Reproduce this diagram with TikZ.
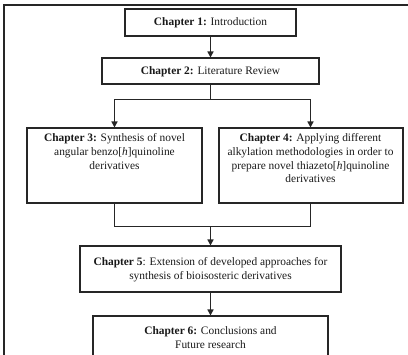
\documentclass[tikz,border=0pt]{standalone}
\usepackage{fontspec}
\setmainfont{Liberation Serif}
\usetikzlibrary{arrows.meta,positioning,calc}
\definecolor{BoxLine}{RGB}{38,38,38}
\tikzset{
  chapbox/.style={
    rectangle, draw=BoxLine, line width=2pt,
    align=center, text=black!90,
    font=\fontsize{11.4}{13.8}\selectfont,
    inner sep=3pt
  },
  tallbox/.style={chapbox, inner xsep=0pt, inner ysep=5pt},
  flow/.style={-{Triangle[length=6pt,width=6pt]},
               line width=1.6pt, color=BoxLine},
  link/.style={line width=1.6pt, color=BoxLine}
}
\newcommand{\toplines}[2]{\parbox[c][65pt][t]{#1}{\centering #2}}

\begin{document}
\begin{tikzpicture}[node distance=20pt]
  \useasboundingbox (0,0) rectangle (408pt,-355pt);
  \draw[line width=1.6pt, BoxLine] (408pt,-5pt) -- (4pt,-5pt) -- (4pt,-355pt);

  \node[chapbox, minimum width=171pt, minimum height=27pt]
        (ch1) at (210.5pt,-23pt) {\textbf{Chapter 1:} Introduction};
  \node[chapbox, minimum width=217pt, minimum height=26pt, below=20pt of ch1]
        (ch2) {\textbf{Chapter 2:} Literature Review};
  \coordinate (split) at ($(ch2.south)+(0,-14pt)$);

  \node[tallbox, below=42pt of ch2, xshift=-96pt] (ch3)
        {\toplines{175pt}{\textbf{Chapter 3:} Synthesis of novel\\
                          angular benzo[\textit{h}]quinoline\\
                          derivatives}};
  \node[tallbox, below=42pt of ch2, xshift=100pt] (ch4)
        {\toplines{184pt}{\textbf{Chapter 4:} Applying different\\
                          alkylation methodologies in order to\\
                          prepare novel thiazeto[\textit{h}]quinoline\\
                          derivatives}};
  \coordinate (join) at ($(ch3.south -| ch2.south)+(0,-22pt)$);

  \node[chapbox, minimum width=261pt, minimum height=46pt, below=19pt of join]
        (ch5) {\textbf{Chapter 5}: Extension of developed approaches for\\
               synthesis of bioisosteric derivatives};
  \node[chapbox, minimum width=235pt, minimum height=43pt, below=22pt of ch5]
        (ch6) {\textbf{Chapter 6:} Conclusions and\\Future research};

  \draw[flow] (ch1) -- (ch2);
  \draw[link] (ch2) -- (split);
  \draw[flow] (split) -| (ch3);
  \draw[flow] (split) -| (ch4);
  \draw[link] (ch3) |- (join) -| (ch4);
  \draw[flow] (join) -- (ch5);
  \draw[flow] (ch5) -- (ch6);
\end{tikzpicture}
\end{document}
